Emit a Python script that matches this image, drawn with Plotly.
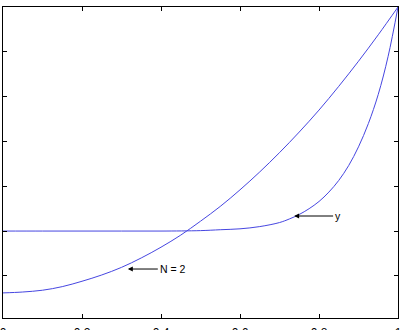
import plotly.graph_objects as go

# Curve "N = 2"
x_n2 = [0, 0.05, 0.1, 0.15, 0.2, 0.25, 0.3, 0.35, 0.4, 0.45, 0.5, 0.55, 0.6, 0.65,
        0.7, 0.75, 0.8, 0.85, 0.9, 0.95, 1.0]
y_n2 = [0.362, 0.364, 0.368, 0.376, 0.388, 0.402, 0.419, 0.440, 0.464, 0.491, 0.522,
        0.555, 0.592, 0.632, 0.675, 0.721, 0.770, 0.823, 0.879, 0.938, 1.0]

# Curve "y"
x_y = [0, 0.1, 0.2, 0.3, 0.4, 0.5, 0.55, 0.6, 0.65, 0.7, 0.725, 0.75, 0.775, 0.8,
       0.825, 0.85, 0.875, 0.9, 0.925, 0.95, 0.975, 1.0]
y_y = [0.5, 0.5, 0.5, 0.5, 0.5, 0.501, 0.503, 0.505, 0.510, 0.519, 0.527, 0.537,
       0.550, 0.566, 0.587, 0.613, 0.646, 0.688, 0.740, 0.805, 0.890, 1.0]

x_ticks = [0, 0.2, 0.4, 0.6, 0.8, 1.0]
x_labels = ["0", "0.2", "0.4", "0.6", "0.8", "1"]
y_ticks = [0.4, 0.5, 0.6, 0.7, 0.8, 0.9, 1.0]

line_color = "rgb(70,70,225)"

fig = go.Figure()
fig.add_trace(go.Scatter(x=x_n2, y=y_n2, mode="lines", line=dict(color=line_color, width=1, shape="spline"),
                         showlegend=False, hoverinfo="skip"))
fig.add_trace(go.Scatter(x=x_y, y=y_y, mode="lines", line=dict(color=line_color, width=1, shape="spline"),
                         showlegend=False, hoverinfo="skip"))

font = dict(family="Liberation Sans, Arial, sans-serif", size=10.5, color="black")
tick_font = dict(family="Liberation Sans, Arial, sans-serif", size=12, color="black")

fig.add_annotation(x=0.316, y=0.4153, xref="x", yref="y", text="N = 2", showarrow=True,
                   ax=30, ay=0, axref="pixel", ayref="pixel", xanchor="left", yanchor="middle",
                   arrowhead=2, arrowsize=1, arrowwidth=1, arrowcolor="black", standoff=0,
                   font=font)
fig.add_annotation(x=0.737, y=0.5336, xref="x", yref="y", text="y", showarrow=True,
                   ax=39, ay=0, axref="pixel", ayref="pixel", xanchor="left", yanchor="middle",
                   arrowhead=2, arrowsize=1, arrowwidth=1, arrowcolor="black", standoff=0,
                   font=font)

axis_common = dict(showline=True, mirror="allticks", linecolor="black", linewidth=1,
                   ticks="inside", ticklen=4, tickcolor="black", tickwidth=1,
                   showgrid=False, zeroline=False)

fig.update_xaxes(range=[0, 1], tickvals=x_ticks, ticktext=x_labels,
                 tickfont=tick_font, ticklabelstandoff=4, ticklabeloverflow="allow",
                 **axis_common)
fig.update_yaxes(range=[0.306, 1.0], tickvals=y_ticks, showticklabels=False, **axis_common)

fig.update_layout(width=402, height=330, margin=dict(l=3, r=4, t=7, b=12),
                  plot_bgcolor="white", paper_bgcolor="white", template="none")

fig.write_html("out.html")
